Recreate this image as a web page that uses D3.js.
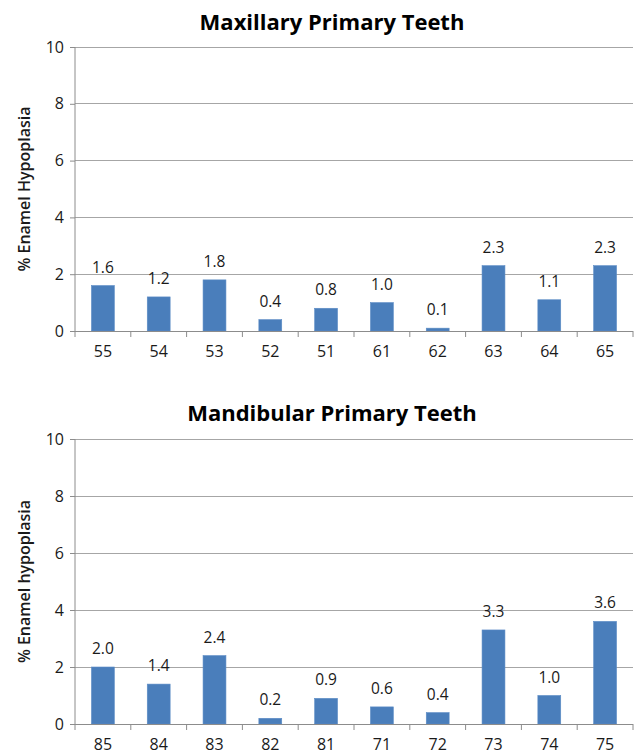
<!DOCTYPE html>
<html><head><meta charset="utf-8">
<script src="https://d3js.org/d3.v7.min.js"></script>
<style>body{margin:0;background:#fff}svg{display:block}</style>
</head><body>
<script>
const maxCategories = ["55","54","53","52","51","61","62","63","64","65"];
const maxValues = [1.6,1.2,1.8,0.4,0.8,1.0,0.1,2.3,1.1,2.3];
const mandCategories = ["85","84","83","82","81","71","72","73","74","75"];
const mandValues = [2.0,1.4,2.4,0.2,0.9,0.6,0.4,3.3,1.0,3.6];
const yTicks = [0,2,4,6,8,10];

const W = 636, H = 756;
const svg = d3.select("body").append("svg").attr("width", W).attr("height", H);
const font = "'Open Sans', sans-serif";

function panel(title, yLabel, cats, vals, top, bottom, titleY) {
  const left = 75, right = 633;
  const x = d3.scaleBand().domain(cats).range([left, right]).paddingInner(0.59).paddingOuter(0.295);
  const xb = d3.scaleBand().domain(cats).range([left, right]);
  const y = d3.scaleLinear().domain([0, 10]).range([bottom, top]);
  const g = svg.append("g");
  g.append("g").selectAll("line").data(yTicks.filter(d => d > 0)).join("line")
    .attr("x1", left).attr("x2", right).attr("y1", d => y(d)).attr("y2", d => y(d))
    .attr("stroke", "#a6a6a6").attr("stroke-width", 1).attr("shape-rendering", "crispEdges");
  const ya = g.append("g").attr("transform", `translate(${left},0)`)
    .call(d3.axisLeft(y).tickValues(yTicks).tickSize(5).tickPadding(6).tickFormat(d3.format("d")));
  ya.select(".domain").attr("stroke", "#8c8c8c").attr("d", `M-0,${top}V${bottom}`);
  ya.selectAll(".tick line").attr("stroke", "#8c8c8c");
  ya.selectAll("text").attr("font-family", font).attr("font-size", 16).attr("fill", "#1a1a1a");
  g.append("g").selectAll("rect").data(vals).join("rect")
    .attr("x", (d, i) => x(cats[i])).attr("width", x.bandwidth())
    .attr("y", d => y(d)).attr("height", d => bottom - y(d))
    .attr("fill", "#4a7ebb").attr("stroke", "#5b8bc5").attr("stroke-width", 0.6);
  g.append("g").selectAll("text").data(vals).join("text")
    .attr("x", (d, i) => x(cats[i]) + x.bandwidth() / 2).attr("y", d => y(d) - 13)
    .attr("text-anchor", "middle").attr("font-family", font).attr("font-size", 15.5).attr("fill", "#1a1a1a")
    .text(d => d3.format(".1f")(d));
  const xa = g.append("g").attr("transform", `translate(0,${bottom})`)
    .call(d3.axisBottom(xb).tickSize(0).tickPadding(15));
  xa.select(".domain").attr("stroke", "#8c8c8c").attr("d", `M${left},0.5H${right}`);
  xa.selectAll("text").attr("font-family", font).attr("font-size", 16).attr("fill", "#1a1a1a");
  g.append("g").selectAll("line").data(d3.range(cats.length + 1)).join("line")
    .attr("x1", i => left + i * xb.step()).attr("x2", i => left + i * xb.step())
    .attr("y1", bottom).attr("y2", bottom + 6).attr("stroke", "#8c8c8c");
  g.append("text").attr("x", 332).attr("y", titleY).attr("text-anchor", "middle")
    .attr("font-family", font).attr("font-weight", "bold").attr("font-size", 22).attr("fill", "#000")
    .text(title);
  g.append("text").attr("transform", `translate(30,${(top + bottom) / 2}) rotate(-90)`)
    .attr("text-anchor", "middle").attr("font-family", font).attr("font-weight", "600")
    .attr("font-size", 16).attr("fill", "#1a1a1a").text(yLabel);
}

panel("Maxillary Primary Teeth", "% Enamel Hypoplasia", maxCategories, maxValues, 47, 331, 30);
panel("Mandibular Primary Teeth", "% Enamel  hypoplasia", mandCategories, mandValues, 439, 724, 421);
</script>
</body></html>
